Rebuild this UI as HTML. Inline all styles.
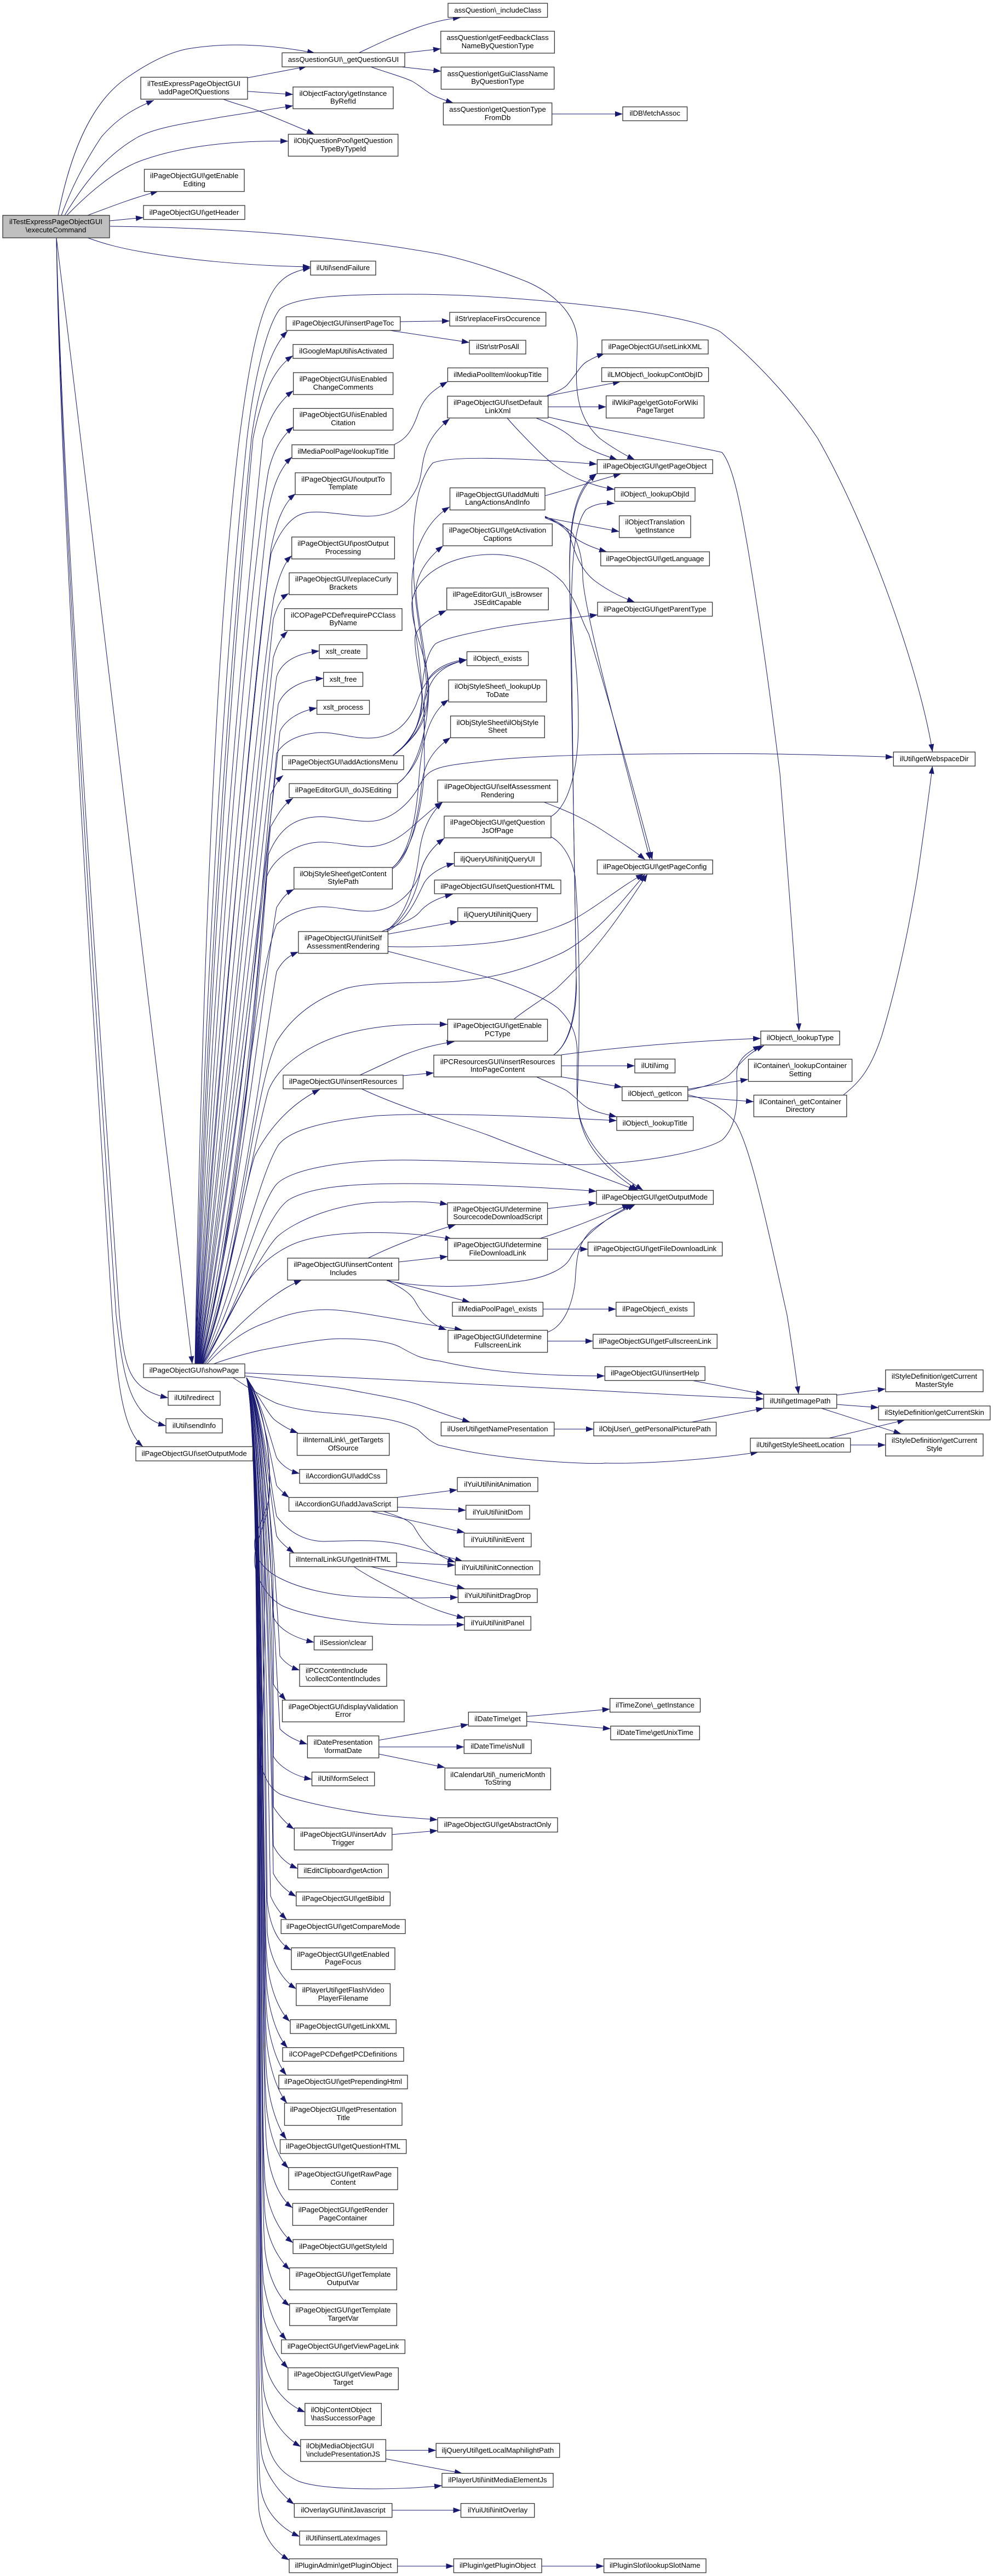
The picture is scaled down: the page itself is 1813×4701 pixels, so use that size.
<!DOCTYPE html>
<html><head><meta charset="utf-8"><title>Call graph</title>
<style>
html,body{margin:0;padding:0;background:#fff}
svg{display:block}
.e path{fill:none;stroke:#191970;stroke-width:1;marker-end:url(#a)}
.n rect{fill:#fff;stroke:#333;stroke-width:1.3}
.n text{font-family:"Liberation Sans",sans-serif;font-size:13.2px;fill:#000;text-anchor:middle}
.n text.l{text-anchor:start}
</style></head><body>
<svg xmlns="http://www.w3.org/2000/svg" width="1813" height="4701" viewBox="0 0 1813 4701">
<defs><marker id="a" markerUnits="userSpaceOnUse" markerWidth="15" markerHeight="10" refX="14" refY="5" orient="auto"><polygon points="0,0 14,5 0,10" fill="#191970"/></marker></defs>
<g class="e">
<path d="M106 393C130 270 170 185 230 143C280 108 320 92 350 88C420 77 500 82 575 97"/>
<path d="M112 393C135 330 165 280 185 250C215 215 245 198 281 183"/>
<path d="M118 393C150 340 190 285 252 250C290 230 360 222 402 214L535 193"/>
<path d="M122 393C150 365 205 310 264 291C330 268 420 256 526 257.6"/>
<path d="M160 393C195 380 240 362 289 349"/>
<path d="M200 403L262 397"/>
<path d="M201 413C400 415 620 430 804 464C860 476 920 497 964 515C1020 540 1054 580 1054 625C1054 680 1040 750 1095 800C1115 815 1140 830 1159 839"/>
<path d="M160 434C190 445 220 453 264 460.5C330 472 440 485 567 487"/>
<path d="M103 434L351 2489"/>
<path d="M103 434C110 900 160 1700 205 2400C215 2530 225 2610 261 2640"/>
<path d="M103 434C112 900 165 1700 212 2400C225 2510 235 2585 303 2602"/>
<path d="M103 434C114 900 170 1700 218 2400C228 2500 235 2535 307 2551"/>
<path d="M356 2489C370 1700 400 1100 437 800C455 660 475 550 511 515C525 500 545 493 567 489"/>
<path d="M356.5 2489C375 1700 420 1100 451 800C465 680 490 590 511 564C540 540 640 537 746 537C900 537 1060 555 1133 564C1200 572 1290 590 1316 606C1370 650 1440 720 1493 800C1590 970 1680 1230 1702.5 1372"/>
<path d="M357 2489C380 1700 430 1100 459 800C470 720 490 640 525 604"/>
<path d="M357.5 2489C385 1700 435 1100 462 800C475 735 495 675 535 649"/>
<path d="M358 2489C390 1700 450 1100 480 800C490 770 505 735 535.6 713"/>
<path d="M358.5 2489C395 1800 450 1100 490 860C497 830 510 800 535.6 779"/>
<path d="M359 2489C400 1800 465 1150 490 930C498 890 510 855 533 834"/>
<path d="M359.5 2489C400 1900 470 1200 495 1000C503 960 515 920 539.6 901"/>
<path d="M360 2489C405 1900 465 1200 495 1010C510 970 530 945 551 938C580 928 630 942 672 942C710 942 750 925 765 880C775 850 765 810 821 764"/>
<path d="M360.5 2489C410 1900 475 1250 500 1090C505 1070 515 1030 532.7 1014"/>
<path d="M361 2489C415 1950 480 1300 499 1130C505 1110 512 1092 527 1083"/>
<path d="M361.5 2489C420 1950 485 1350 499 1200C505 1180 512 1165 525 1152"/>
<path d="M362 2489C425 2000 485 1400 505 1235C515 1205 545 1192 583 1188"/>
<path d="M362.5 2489C430 2000 490 1450 508 1285C520 1255 555 1240 590.7 1238"/>
<path d="M363 2489C435 2000 495 1500 511 1335C520 1315 545 1298 578.6 1292"/>
<path d="M363.5 2489C440 2050 490 1550 505 1375C520 1350 550 1340 580 1337C610 1335 640 1347 672 1347C720 1347 745 1320 760 1285C775 1240 795 1215 852.5 1204"/>
<path d="M364 2489C445 2050 480 1600 494 1450C500 1440 505 1425 517 1415"/>
<path d="M364.5 2489C450 2100 480 1650 494 1509C505 1490 515 1470 535 1456.6"/>
<path d="M365 2489C450 2150 480 1700 490 1560C510 1510 540 1494 574 1491C605 1488 640 1499 672 1499C715 1499 750 1465 769 1428C785 1400 800 1398 900 1387C1000 1377 1150 1375 1366 1375.5C1450 1376 1550 1379 1631 1381.6"/>
<path d="M365.5 2489C445 2200 470 1750 487 1600C500 1565 540 1540 580 1537C610 1535 640 1545 672 1545C720 1545 750 1510 768 1495C780 1485 790 1475 808 1464"/>
<path d="M366 2489C440 2200 480 1800 505 1656C515 1640 522 1630 536.7 1623"/>
<path d="M366.5 2489C430 2250 460 1800 505 1687C525 1668 555 1657 580 1655C610 1653 640 1663 672 1663C720 1663 755 1630 768 1590C775 1565 790 1545 811 1530"/>
<path d="M367 2489C440 2250 475 1950 505 1773C515 1755 525 1745 544.8 1737"/>
<path d="M367.5 2489C440 2300 460 2000 505 1901C530 1860 570 1825 631 1804C680 1790 780 1795 832 1791C900 1785 960 1770 1028 1738C1090 1705 1140 1640 1178 1595"/>
<path d="M368 2489C430 2300 460 2100 490 1990C510 1940 570 1905 626 1888C690 1870 750 1868 817 1869.4"/>
<path d="M368.5 2489C420 2350 440 2190 465 2110C490 2060 530 2015 584 1988"/>
<path d="M369 2489C430 2350 470 2150 508 2090C530 2060 600 2045 689 2036C790 2030 950 2036 1126 2045"/>
<path d="M369.5 2489C430 2380 470 2200 505 2161C530 2135 620 2117 735 2117C850 2117 1000 2128 1075 2125C1180 2122 1290 2100 1319 2080C1350 2050 1346 2000 1345 1960C1345 1930 1370 1918 1389 1908"/>
<path d="M370 2489C440 2380 480 2220 528 2189C570 2165 650 2160 735 2160C850 2160 1000 2167 1089 2174"/>
<path d="M371 2489C420 2400 475 2290 505 2258C535 2230 620 2190 717.6 2194C755 2192 790 2193 817.4 2198"/>
<path d="M373 2489C405 2430 450 2340 459 2330C490 2290 530 2270 557 2263C620 2245 740 2245 826.6 2262"/>
<path d="M375 2489C410 2440 490 2360 551 2336"/>
<path d="M390 2489C420 2478 450 2470 476 2464C540 2452 590 2443 620 2443C670 2443 710 2448 730 2458C760 2475 770 2480 804 2484C850 2495 940 2511 1104 2511"/>
<path d="M378 2489C415 2450 450 2425 488 2413C530 2395 565 2390 597 2390C640 2390 730 2410 844 2427"/>
<path d="M706 2336C730 2348 750 2360 758 2375C775 2405 790 2418 815 2427"/>
<path d="M706 2336L858 2376.5"/>
<path d="M672 2296C720 2272 780 2250 832 2235"/>
<path d="M728 2303L817.4 2293"/>
<path d="M706 2337C770 2350 850 2352 958 2337C1000 2330 1030 2315 1040 2298C1060 2262 1100 2225 1155 2198"/>
<path d="M1000 2431C1030 2420 1045 2380 1050 2340C1053 2290 1055 2270 1080 2245C1100 2230 1130 2212 1160 2198"/>
<path d="M986 2260C1050 2240 1100 2218 1150 2198"/>
<path d="M999.6 2205.6L1089 2195"/>
<path d="M1000 2279.6L1073.5 2279.6"/>
<path d="M1000 2447.4L1082.8 2447.4"/>
<path d="M991.4 2389L1124.8 2389"/>
<path d="M447 2505.6C700 2515 1100 2540 1394.4 2553"/>
<path d="M447 2511C520 2520 600 2530 631 2535C680 2545 730 2552 763 2563C800 2577 830 2587 858 2595"/>
<path d="M425 2514C450 2530 480 2550 505 2561C545 2575 590 2578 631 2581C680 2585 730 2590 763 2609C780 2625 785 2630 800 2637C840 2647 870 2652 900 2656C1000 2670 1100 2672 1104 2670C1180 2672 1300 2663 1384.5 2650"/>
<path d="M450 2514C470 2545 490 2580 500 2590C515 2602 530 2610 544 2615"/>
<path d="M450 2514C475 2550 495 2630 505 2660C515 2675 530 2685 547 2689"/>
<path d="M450 2514C478 2555 498 2680 505 2711C512 2720 520 2727 528 2733"/>
<path d="M450 2514C478 2560 495 2720 505 2767C530 2800 560 2812 590 2813C640 2812 690 2808 740 2820C780 2830 810 2840 845 2849"/>
<path d="M450 2514C478 2560 497 2760 505 2803C512 2815 525 2825 537 2834"/>
<path d="M450 2514C480 2560 498 2660 490 2740C475 2790 462 2800 465 2825C468 2850 490 2870 511 2880C540 2895 600 2915 689 2915C740 2917 790 2916 836 2915"/>
<path d="M450 2514C482 2560 502 2680 488 2760C472 2810 462 2830 465 2855C470 2885 490 2918 516.6 2931C560 2950 660 2965 746 2965C785 2966 820 2965 848 2965"/>
<path d="M450 2514C482 2570 500 2800 499 2951C510 2975 540 2990 573.5 2997"/>
<path d="M450 2514C482 2570 502 2850 511 3022C520 3035 535 3044 547 3048"/>
<path d="M450 2514C482 2570 502 2900 499 3073C505 3085 515 3095 522 3103"/>
<path d="M450 2514C484 2570 502 3000 511 3155C525 3170 545 3178 561 3183"/>
<path d="M450 2514C484 2580 502 3050 499 3205C510 3225 540 3242 569.5 3247"/>
<path d="M450 2514C484 2580 490 2900 476 3220C485 3250 495 3265 511 3274C540 3285 600 3300 689 3312C725 3316 765 3318 799 3321"/>
<path d="M450 2514C484 2580 500 3100 499 3297C510 3315 525 3330 537 3338"/>
<path d="M450 2514C484 2590 498 3200 499 3368C510 3390 525 3402 543.6 3410"/>
<path d="M450 2514C484 2590 496 3250 499 3419C510 3440 525 3452 540.8 3461"/>
<path d="M450 2514C484 2600 490 3300 494 3460C500 3475 510 3490 523.5 3503"/>
<path d="M450 2514C484 2600 485 3300 488 3470C492 3510 505 3545 532 3559"/>
<path d="M450 2514C484 2610 482 3350 488 3526C492 3570 510 3610 540.8 3629.5"/>
<path d="M450 2514C484 2620 478 3510 488 3582C492 3620 505 3665 529 3689"/>
<path d="M450 2514C484 2620 478 3570 488 3633C492 3670 505 3715 525 3737"/>
<path d="M450 2514C484 2620 478 3620 488 3684C492 3720 505 3765 523 3787"/>
<path d="M450 2514C484 2620 476 3670 488 3735C492 3770 505 3815 524 3838"/>
<path d="M450 2514C484 2620 476 3730 488 3796C492 3835 505 3880 523 3904"/>
<path d="M450 2514C484 2630 474 3790 488 3857C492 3890 505 3935 527 3957"/>
<path d="M450 2514C484 2630 474 3860 488 3925C492 3965 508 4010 534 4029"/>
<path d="M450 2514C486 2640 472 3930 485 3990C490 4030 508 4072 535 4093"/>
<path d="M450 2514C486 2640 472 3990 485 4050C490 4090 508 4122 529 4142"/>
<path d="M450 2514C486 2650 470 4050 485 4115C490 4150 505 4190 529 4208"/>
<path d="M450 2514C486 2650 468 4110 482 4170C488 4205 500 4245 523 4270"/>
<path d="M450 2514C486 2650 468 4170 482 4230C488 4265 505 4300 526 4322"/>
<path d="M450 2514C488 2660 465 4240 482 4300C488 4345 515 4385 557 4402"/>
<path d="M450 2514C488 2660 465 4300 482 4365C488 4405 515 4445 549 4465"/>
<path d="M450 2514C488 2660 463 4330 482 4430C490 4480 505 4510 545 4528C590 4545 720 4545 807 4536"/>
<path d="M450 2514C488 2660 462 4400 478 4480C484 4515 510 4550 537 4570"/>
<path d="M450 2514C488 2660 460 4460 476 4540C482 4585 515 4615 547 4629"/>
<path d="M450 2514C488 2660 456 4520 474 4590C482 4630 500 4655 528 4672"/>
<path d="M656 96C690 80 710 70 735 61C765 48 800 36 841 32"/>
<path d="M739 96.4L805 89"/>
<path d="M735 122.4L805.4 130"/>
<path d="M677 122C705 132 735 140 752 148C770 158 780 170 800 178Q815 184 828 188"/>
<path d="M1007.7 208L1137 208"/>
<path d="M452 142L560 121.4"/>
<path d="M452 166.8L535 172.4"/>
<path d="M407.6 181C430 190 455 195 476.5 204C510 218 545 232 574 245"/>
<path d="M731 587L821 585.7"/>
<path d="M712 603L857 625"/>
<path d="M720 811C745 800 755 780 765 750C775 725 790 712 817.4 696.4"/>
<path d="M999 722C1015 715 1025 712 1035 703C1055 680 1060 665 1075 658C1085 652 1095 648 1104 645"/>
<path d="M1000.7 722.4L1133 696.4"/>
<path d="M1000.7 742.5L1106.7 742.5"/>
<path d="M926 763C945 785 965 805 985 825C1015 855 1045 870 1063 877C1085 885 1100 890 1122 893"/>
<path d="M979 763C1005 773 1030 785 1046 800C1065 818 1100 830 1127 839"/>
<path d="M1001 761C1100 785 1250 810 1318 825.5C1340 850 1355 940 1366 1004C1395 1180 1410 1300 1424 1412C1435 1550 1450 1740 1459 1881.6"/>
<path d="M717 1379C750 1355 770 1330 780 1280C780 1200 755 1120 755 1030C752 950 760 880 790 845C830 828 1000 840 1090 847"/>
<path d="M717 1379C745 1360 765 1335 770 1280C770 1230 780 1190 795 1175C810 1165 860 1155 900 1147C960 1136 1030 1130 1091 1122"/>
<path d="M717 1379C745 1358 765 1330 775 1280C785 1240 800 1215 852.5 1204"/>
<path d="M1006 1490C1040 1470 1056 1400 1056 1320C1056 1200 1040 1150 1040 1055C1038 950 1050 890 1090 864"/>
<path d="M1006 1527C1030 1540 1045 1570 1050 1600C1058 1700 1060 1850 1054 2008C1056 2070 1100 2125 1174 2172"/>
<path d="M726 1430C755 1410 780 1350 783 1260C783 1200 750 1150 752 1100C758 1050 820 1012 900 1011.7C960 1012 1005 1040 1028 1063C1055 1100 1060 1130 1075 1157C1115 1290 1160 1450 1191 1569"/>
<path d="M995 904.8L1134 864.5"/>
<path d="M995 944.4L1130.6 970"/>
<path d="M995 942C1010 950 1025 958 1034 968C1045 980 1065 995 1108 1007"/>
<path d="M995 943C1015 950 1030 958 1037 968C1050 1010 1060 1040 1086 1060C1110 1078 1135 1090 1159 1099"/>
<path d="M995 945C1020 955 1040 965 1045.6 973.5C1060 1000 1064 1030 1064 1055C1068 1120 1130 1350 1187 1569"/>
<path d="M717 1379C745 1355 780 1330 782 1270C782 1200 757 1110 760 1070C765 1040 785 1015 809 996"/>
<path d="M717 1379C750 1355 773 1320 770 1270C770 1200 750 1130 752 1060C755 1000 780 950 821 925"/>
<path d="M726 1430C750 1410 772 1380 775 1330C775 1250 755 1200 758 1160C765 1140 790 1125 815 1114"/>
<path d="M717 1583C745 1560 760 1500 765 1420C770 1350 785 1300 819 1277"/>
<path d="M717 1585C750 1565 765 1480 770 1430C775 1390 795 1365 822.6 1346"/>
<path d="M717 1583C745 1560 770 1500 775 1400C775 1320 770 1260 785 1235C800 1215 830 1205 852 1204"/>
<path d="M993 1463.8C1030 1478 1060 1490 1098 1514C1130 1535 1155 1550 1178 1569"/>
<path d="M697 1700C730 1685 755 1680 770 1660C785 1645 805 1637 826.6 1632"/>
<path d="M708.4 1704.6L835.8 1681.6"/>
<path d="M706 1700C745 1680 760 1640 775 1610C785 1595 805 1582 829.5 1575.5"/>
<path d="M706 1698C745 1675 762 1620 768 1590C775 1565 790 1545 811 1530"/>
<path d="M706 1698C745 1670 760 1600 765 1560C770 1515 785 1485 808 1464"/>
<path d="M708 1727.5C760 1729 840 1727 900 1720C950 1714 1000 1700 1040 1682C1090 1655 1130 1620 1175 1595"/>
<path d="M708 1736C760 1749 840 1770 900 1786C960 1805 1000 1825 1019 1840C1045 1865 1055 1890 1054 1930C1053 2000 1050 2040 1075 2085C1095 2120 1130 2150 1165 2172"/>
<path d="M938 1860C970 1835 990 1825 1016 1804C1090 1735 1140 1660 1182 1595"/>
<path d="M657 1962C690 1947 715 1935 735 1926C770 1912 800 1905 829.5 1901"/>
<path d="M736 1963L792 1958"/>
<path d="M660 1987C740 2025 850 2055 900 2075C980 2107 1080 2140 1162 2172"/>
<path d="M1025 1925C1150 1908 1300 1898 1389 1895"/>
<path d="M1025 1945L1159 1945"/>
<path d="M1025 1965.3L1135.8 1984"/>
<path d="M979 1965C1000 1975 1020 1982 1034 1990C1055 2005 1060 2015 1075 2023C1090 2030 1108 2034 1126 2038"/>
<path d="M1011 1925C1040 1905 1052 1850 1052 1780C1052 1650 1043 1300 1040 1050C1040 950 1050 900 1089 865"/>
<path d="M1011 1925C1040 1905 1055 1850 1052 1780C1048 1600 1045 1300 1043 1150C1043 1050 1045 960 1070 930C1085 920 1100 917 1122 919"/>
<path d="M1256 1990C1290 1982 1315 1975 1331 1962C1350 1945 1360 1925 1395 1908"/>
<path d="M1255.8 1987.6L1366 1969.7"/>
<path d="M1255.8 2001L1376 2010.5"/>
<path d="M1256 1998C1290 2005 1320 2020 1343 2049C1370 2095 1395 2210 1437 2400C1445 2450 1452 2500 1458 2544"/>
<path d="M1540 1998C1570 1975 1590 1950 1610 1890C1640 1790 1660 1690 1675 1600C1685 1530 1695 1460 1702.4 1398"/>
<path d="M1264 2519.3L1394.4 2544.4"/>
<path d="M1264 2595L1394.4 2570"/>
<path d="M1011.8 2608L1084 2608"/>
<path d="M1527.7 2546L1616.8 2534.6"/>
<path d="M1527.7 2563L1604 2568.8"/>
<path d="M1499.8 2570L1645.4 2616.8"/>
<path d="M1514 2624.4L1652.4 2591.3"/>
<path d="M1552.7 2637L1616.8 2637"/>
<path d="M725.6 2732.5L835 2718.8"/>
<path d="M725.6 2750.4L850.7 2756"/>
<path d="M677 2758L848.4 2796.8"/>
<path d="M700 2758C725 2767 745 2772 755 2785C770 2810 785 2835 831 2851"/>
<path d="M724 2851L831 2856.4"/>
<path d="M677 2859L848.4 2899"/>
<path d="M646 2859C680 2882 720 2900 746 2915C785 2935 815 2945 848 2953"/>
<path d="M691.7 3175.7L855.3 3147"/>
<path d="M691.7 3188L847.3 3188"/>
<path d="M691.7 3201L812.3 3225.5"/>
<path d="M961.7 3132.4L1113.7 3119"/>
<path d="M961.7 3141.5L1114.9 3154.8"/>
<path d="M715.8 3347.9L799 3340.8"/>
<path d="M704.4 4471.6L796.2 4471.6"/>
<path d="M704.4 4487.2L843.9 4513.6"/>
<path d="M715.8 4581L841.5 4581"/>
<path d="M725.6 4683L828.4 4683"/>
<path d="M989 4683L1102.6 4683"/>
</g>
<g class="n">
<rect x="5" y="393" width="195" height="41" style="fill:#bfbfbf"/><text x="102" y="409">ilTestExpressPageObjectGUI</text><text x="102" y="424">\executeCommand</text>
<rect x="257" y="141" width="195" height="40"/><text x="354" y="157">ilTestExpressPageObjectGUI</text><text x="354" y="172">\addPageOfQuestions</text>
<rect x="263.5" y="309" width="182.5" height="40.5"/><text x="354.7" y="325">ilPageObjectGUI\getEnable</text><text x="354.7" y="340">Editing</text>
<rect x="262" y="375" width="185" height="25.5"/><text x="354.5" y="392">ilPageObjectGUI\getHeader</text>
<rect x="262" y="2489" width="185" height="25"/><text x="354.5" y="2505">ilPageObjectGUI\showPage</text>
<rect x="307" y="2539" width="95" height="25.5"/><text x="354.5" y="2555">ilUtil\redirect</text>
<rect x="303" y="2589" width="103" height="26"/><text x="354.5" y="2606">ilUtil\sendInfo</text>
<rect x="248" y="2640" width="213.5" height="26"/><text x="354.7" y="2657">ilPageObjectGUI\setOutputMode</text>
<rect x="515" y="96.4" width="224" height="25.6"/><text x="627" y="113">assQuestionGUI\_getQuestionGUI</text>
<rect x="535" y="158.7" width="183" height="39.8"/><text x="626.5" y="175">ilObjectFactory\getInstance</text><text x="626.5" y="189">ByRefId</text>
<rect x="526.4" y="245" width="200.3" height="40"/><text x="626.5" y="261">ilObjQuestionPool\getQuestion</text><text x="626.5" y="276">TypeByTypeId</text>
<rect x="567" y="476.5" width="119" height="25.5"/><text x="626.5" y="493">ilUtil\sendFailure</text>
<rect x="522.4" y="578" width="208.4" height="25"/><text x="626.6" y="594">ilPageObjectGUI\insertPageToc</text>
<rect x="535" y="628.6" width="183" height="25.4"/><text x="626.5" y="645">ilGoogleMapUtil\isActivated</text>
<rect x="535.6" y="680" width="182" height="40"/><text x="626.6" y="696">ilPageObjectGUI\isEnabled</text><text x="626.6" y="711">ChangeComments</text>
<rect x="535.6" y="745.4" width="182" height="39.6"/><text x="626.6" y="761">ilPageObjectGUI\isEnabled</text><text x="626.6" y="776">Citation</text>
<rect x="533" y="811.7" width="187" height="25"/><text x="626.5" y="828">ilMediaPoolPage\lookupTitle</text>
<rect x="539" y="862.8" width="175" height="39.8"/><text x="626.5" y="879">ilPageObjectGUI\outputTo</text><text x="626.5" y="893">Template</text>
<rect x="532.7" y="980" width="187.7" height="40"/><text x="626.5" y="996">ilPageObjectGUI\postOutput</text><text x="626.5" y="1011">Processing</text>
<rect x="528" y="1045.4" width="197.6" height="39.8"/><text x="626.8" y="1061">ilPageObjectGUI\replaceCurly</text><text x="626.8" y="1076">Brackets</text>
<rect x="519.5" y="1110.7" width="214.5" height="39.8"/><text x="626.7" y="1127">ilCOPagePCDef\requirePCClass</text><text x="626.7" y="1141">ByName</text>
<rect x="583" y="1176.5" width="87" height="25.5"/><text x="626.5" y="1193">xslt_create</text>
<rect x="590.7" y="1227" width="71.8" height="25.6"/><text x="626.6" y="1244">xslt_free</text>
<rect x="578.6" y="1278" width="95.9" height="25.6"/><text x="626.5" y="1295">xslt_process</text>
<rect x="515.5" y="1379" width="221.5" height="25.6"/><text x="626.2" y="1395">ilPageObjectGUI\addActionsMenu</text>
<rect x="528" y="1430" width="197.6" height="25.6"/><text x="626.8" y="1446">ilPageEditorGUI\_doJSEditing</text>
<rect x="536.7" y="1583" width="179.7" height="39.4"/><text x="626.5" y="1599">ilObjStyleSheet\getContent</text><text x="626.5" y="1613">StylePath</text>
<rect x="544.8" y="1700" width="163.6" height="39.8"/><text x="626.6" y="1716">ilPageObjectGUI\initSelf</text><text x="626.6" y="1731">AssessmentRendering</text>
<rect x="517" y="1962" width="219" height="25"/><text x="626.5" y="1978">ilPageObjectGUI\insertResources</text>
<rect x="525" y="2296" width="203" height="40"/><text x="626.5" y="2312">ilPageObjectGUI\insertContent</text><text x="626.5" y="2327">Includes</text>
<rect x="542.5" y="2615.8" width="168.2" height="40.2"/><text x="626.6" y="2632">ilInternalLink\_getTargets</text><text x="626.6" y="2647">OfSource</text>
<rect x="547" y="2681.6" width="159" height="25.4"/><text x="626.5" y="2698">ilAccordionGUI\addCss</text>
<rect x="527.5" y="2732.7" width="198.1" height="25.3"/><text x="626.5" y="2749">ilAccordionGUI\addJavaScript</text>
<rect x="529" y="2834" width="195" height="25"/><text x="626.5" y="2850">ilInternalLinkGUI\getInitHTML</text>
<rect x="573.5" y="2986" width="106.5" height="25"/><text x="626.7" y="3002">ilSession\clear</text>
<rect x="547" y="3037" width="159" height="40.5"/><text class="l" x="558" y="3053">ilPCContentInclude</text><text class="l" x="558" y="3068">\collectContentIncludes</text>
<rect x="515.5" y="3102.6" width="222.5" height="39.7"/><text x="626.7" y="3119">ilPageObjectGUI\displayValidation</text><text x="626.7" y="3133">Error</text>
<rect x="561.4" y="3167.9" width="130.3" height="40.1"/><text x="626.5" y="3184">ilDatePresentation</text><text x="626.5" y="3199">\formatDate</text>
<rect x="569.5" y="3234" width="114.2" height="25"/><text x="626.6" y="3250">ilUtil\formSelect</text>
<rect x="537.3" y="3336" width="178.5" height="40"/><text x="626.5" y="3352">ilPageObjectGUI\insertAdv</text><text x="626.5" y="3367">Trigger</text>
<rect x="543.6" y="3402" width="165.4" height="25"/><text x="626.3" y="3418">ilEditClipboard\getAction</text>
<rect x="540.8" y="3452.6" width="171.6" height="25.4"/><text x="626.6" y="3469">ilPageObjectGUI\getBibId</text>
<rect x="513.2" y="3503" width="226.8" height="25.6"/><text x="626.6" y="3520">ilPageObjectGUI\getCompareMode</text>
<rect x="532" y="3554.6" width="189" height="39.8"/><text x="626.5" y="3571">ilPageObjectGUI\getEnabled</text><text x="626.5" y="3585">PageFocus</text>
<rect x="540.8" y="3620" width="171.6" height="40"/><text x="626.6" y="3636">ilPlayerUtil\getFlashVideo</text><text x="626.6" y="3651">PlayerFilename</text>
<rect x="530" y="3685.7" width="193.3" height="25.3"/><text x="626.6" y="3702">ilPageObjectGUI\getLinkXML</text>
<rect x="516" y="3736.7" width="221" height="25"/><text x="626.5" y="3753">ilCOPagePCDef\getPCDefinitions</text>
<rect x="509" y="3787" width="235" height="25"/><text x="626.5" y="3803">ilPageObjectGUI\getPrependingHtml</text>
<rect x="519.5" y="3838" width="214.5" height="40.6"/><text x="626.7" y="3854">ilPageObjectGUI\getPresentation</text><text x="626.7" y="3869">Title</text>
<rect x="511.5" y="3904.6" width="230.2" height="25.4"/><text x="626.6" y="3921">ilPageObjectGUI\getQuestionHTML</text>
<rect x="527" y="3955.6" width="199" height="40.4"/><text x="626.5" y="3972">ilPageObjectGUI\getRawPage</text><text x="626.5" y="3987">Content</text>
<rect x="534.4" y="4021" width="184.3" height="40.2"/><text x="626.5" y="4037">ilPageObjectGUI\getRender</text><text x="626.5" y="4052">PageContainer</text>
<rect x="535" y="4087" width="183" height="25.6"/><text x="626.5" y="4104">ilPageObjectGUI\getStyleId</text>
<rect x="528.7" y="4138.6" width="195.7" height="40.2"/><text x="626.5" y="4155">ilPageObjectGUI\getTemplate</text><text x="626.5" y="4170">OutputVar</text>
<rect x="528.7" y="4203.8" width="195.7" height="40.2"/><text x="626.5" y="4220">ilPageObjectGUI\getTemplate</text><text x="626.5" y="4235">TargetVar</text>
<rect x="513.8" y="4270" width="225.6" height="25"/><text x="626.6" y="4286">ilPageObjectGUI\getViewPageLink</text>
<rect x="525.8" y="4321" width="201.5" height="40"/><text x="626.5" y="4337">ilPageObjectGUI\getViewPage</text><text x="626.5" y="4352">Target</text>
<rect x="556.8" y="4386" width="139.5" height="40.5"/><text class="l" x="567.5" y="4402">ilObjContentObject</text><text class="l" x="567.5" y="4417">\hasSuccessorPage</text>
<rect x="548.8" y="4452" width="155.6" height="40"/><text class="l" x="559" y="4468">ilObjMediaObjectGUI</text><text class="l" x="559" y="4483">\includePresentationJS</text>
<rect x="537.3" y="4568.6" width="178.5" height="25.4"/><text x="626.5" y="4585">ilOverlayGUI\initJavascript</text>
<rect x="547" y="4619" width="159" height="25.6"/><text x="626.5" y="4636">ilUtil\insertLatexImages</text>
<rect x="528" y="4669.6" width="197.6" height="25.4"/><text x="626.8" y="4686">ilPluginAdmin\getPluginObject</text>
<rect x="818" y="6" width="181.6" height="25.6"/><text x="908.8" y="23">assQuestion\_includeClass</text>
<rect x="804.8" y="57" width="207.6" height="40"/><text x="908.6" y="73">assQuestion\getFeedbackClass</text><text x="908.6" y="88">NameByQuestionType</text>
<rect x="805.4" y="122.4" width="206.4" height="40.4"/><text x="908.6" y="139">assQuestion\getGuiClassName</text><text x="908.6" y="153">ByQuestionType</text>
<rect x="809.4" y="187.8" width="198.3" height="40.2"/><text x="908.5" y="204">assQuestion\getQuestionType</text><text x="908.5" y="219">FromDb</text>
<rect x="821" y="570" width="175.7" height="25"/><text x="908.8" y="586">ilStr\replaceFirsOccurence</text>
<rect x="857" y="621" width="103" height="25"/><text x="908.5" y="637">ilStr\strPosAll</text>
<rect x="817.4" y="671.4" width="182.6" height="25"/><text x="908.7" y="688">ilMediaPoolItem\lookupTitle</text>
<rect x="817" y="723" width="183.7" height="39.8"/><text x="908.8" y="739">ilPageObjectGUI\setDefault</text><text x="908.8" y="754">LinkXml</text>
<rect x="821.5" y="890.3" width="173.5" height="40.3"/><text x="908.2" y="907">ilPageObjectGUI\addMulti</text><text x="908.2" y="921">LangActionsAndInfo</text>
<rect x="808.8" y="956" width="199.5" height="40"/><text x="908.5" y="972">ilPageObjectGUI\getActivation</text><text x="908.5" y="987">Captions</text>
<rect x="815.7" y="1073" width="185.6" height="40"/><text x="908.5" y="1089">ilPageEditorGUI\_isBrowser</text><text x="908.5" y="1104">JSEditCapable</text>
<rect x="852.5" y="1189.3" width="112.1" height="25.5"/><text x="908.5" y="1206">ilObject\_exists</text>
<rect x="819" y="1240.8" width="178.8" height="40.2"/><text x="908.4" y="1257">ilObjStyleSheet\_lookupUp</text><text x="908.4" y="1272">ToDate</text>
<rect x="822.6" y="1306.6" width="171.7" height="39.8"/><text x="908.4" y="1323">ilObjStyleSheet\ilObjStyle</text><text x="908.4" y="1337">Sheet</text>
<rect x="799" y="1423.5" width="219" height="40.3"/><text x="908.5" y="1440">ilPageObjectGUI\selfAssessment</text><text x="908.5" y="1455">Rendering</text>
<rect x="811" y="1489.3" width="195" height="39.7"/><text x="908.5" y="1505">ilPageObjectGUI\getQuestion</text><text x="908.5" y="1520">JsOfPage</text>
<rect x="829.5" y="1555.6" width="158.5" height="25"/><text x="908.7" y="1572">iljQueryUtil\initjQueryUI</text>
<rect x="793.3" y="1606" width="230.7" height="25"/><text x="908.6" y="1622">ilPageObjectGUI\setQuestionHTML</text>
<rect x="835.8" y="1656.6" width="145.2" height="25"/><text x="908.4" y="1673">iljQueryUtil\initjQuery</text>
<rect x="817.4" y="1860" width="182.2" height="40"/><text x="908.5" y="1876">ilPageObjectGUI\getEnable</text><text x="908.5" y="1891">PCType</text>
<rect x="792" y="1925.5" width="233" height="39.8"/><text x="908.5" y="1942">ilPCResourcesGUI\insertResources</text><text x="908.5" y="1956">IntoPageContent</text>
<rect x="817" y="2195" width="182.6" height="39.7"/><text class="l" x="827.5" y="2211">ilPageObjectGUI\determine</text><text class="l" x="827.5" y="2225">SourcecodeDownloadScript</text>
<rect x="817.4" y="2260" width="182.2" height="40"/><text x="908.5" y="2276">ilPageObjectGUI\determine</text><text x="908.5" y="2291">FileDownloadLink</text>
<rect x="826" y="2376.5" width="165.4" height="25.5"/><text x="908.7" y="2393">ilMediaPoolPage\_exists</text>
<rect x="818" y="2427.6" width="181.6" height="40.3"/><text x="908.8" y="2444">ilPageObjectGUI\determine</text><text x="908.8" y="2459">FullscreenLink</text>
<rect x="805.4" y="2595.4" width="206.4" height="25"/><text x="908.6" y="2612">ilUserUtil\getNamePresentation</text>
<rect x="835" y="2696.4" width="147" height="25.6"/><text x="908.5" y="2713">ilYuiUtil\initAnimation</text>
<rect x="850.7" y="2747" width="116.3" height="25.4"/><text x="908.8" y="2764">ilYuiUtil\initDom</text>
<rect x="847.3" y="2798" width="122.6" height="25"/><text x="908.6" y="2814">ilYuiUtil\initEvent</text>
<rect x="831.2" y="2848.5" width="154.4" height="25.5"/><text x="908.4" y="2865">ilYuiUtil\initConnection</text>
<rect x="836.4" y="2899.5" width="144.6" height="25"/><text x="908.7" y="2916">ilYuiUtil\initDragDrop</text>
<rect x="848" y="2950" width="121.3" height="25"/><text x="908.6" y="2966">ilYuiUtil\initPanel</text>
<rect x="855.3" y="3124.5" width="106.4" height="25.5"/><text x="908.5" y="3141">ilDateTime\get</text>
<rect x="847.3" y="3175" width="122.7" height="25"/><text x="908.6" y="3191">ilDateTime\isNull</text>
<rect x="812.3" y="3226.5" width="193.1" height="39.8"/><text x="908.8" y="3243">ilCalendarUtil\_numericMonth</text><text x="908.8" y="3257">ToString</text>
<rect x="799" y="3317.3" width="219" height="26.1"/><text x="908.5" y="3334">ilPageObjectGUI\getAbstractOnly</text>
<rect x="796.2" y="4459" width="225.5" height="25.6"/><text x="908.9" y="4476">iljQueryUtil\getLocalMaphilightPath</text>
<rect x="807" y="4513.6" width="203" height="25.4"/><text x="908.5" y="4530">ilPlayerUtil\initMediaElementJs</text>
<rect x="841.5" y="4568.6" width="134.2" height="25.4"/><text x="908.6" y="4585">ilYuiUtil\initOverlay</text>
<rect x="828.4" y="4669.6" width="160.6" height="25.4"/><text x="908.7" y="4686">ilPlugin\getPluginObject</text>
<rect x="1137" y="195" width="117.6" height="25.4"/><text x="1195.8" y="211">ilDB\fetchAssoc</text>
<rect x="1099" y="620.4" width="194" height="25.6"/><text x="1196" y="637">ilPageObjectGUI\setLinkXML</text>
<rect x="1098.6" y="671" width="195" height="25.4"/><text x="1196" y="688">ilLMObject\_lookupContObjID</text>
<rect x="1106.7" y="722.4" width="178.8" height="40.4"/><text x="1196" y="739">ilWikiPage\getGotoForWiki</text><text x="1196" y="753">PageTarget</text>
<rect x="1090.4" y="838.8" width="210.8" height="25.5"/><text x="1195.8" y="855">ilPageObjectGUI\getPageObject</text>
<rect x="1122.4" y="889.8" width="146.6" height="25"/><text x="1195.7" y="906">ilObject\_lookupObjId</text>
<rect x="1130.6" y="941.3" width="130.4" height="39.7"/><text x="1195.8" y="957">ilObjectTranslation</text><text x="1195.8" y="972">\getInstance</text>
<rect x="1096.8" y="1007" width="198.6" height="25.7"/><text x="1196" y="1024">ilPageObjectGUI\getLanguage</text>
<rect x="1091" y="1099" width="209.6" height="25.5"/><text x="1195.8" y="1116">ilPageObjectGUI\getParentType</text>
<rect x="1090.4" y="1569.4" width="210.8" height="25.6"/><text x="1195.8" y="1586">ilPageObjectGUI\getPageConfig</text>
<rect x="1135.8" y="1983" width="120" height="25.7"/><text x="1195.8" y="2000">ilObject\_getIcon</text>
<rect x="1159" y="1932.7" width="73.5" height="25.3"/><text x="1195.7" y="1949">ilUtil\img</text>
<rect x="1126" y="2037.8" width="139.7" height="25.2"/><text x="1195.8" y="2054">ilObject\_lookupTitle</text>
<rect x="1089" y="2172.4" width="213.4" height="25.6"/><text x="1195.7" y="2189">ilPageObjectGUI\getOutputMode</text>
<rect x="1073.5" y="2266.8" width="245.2" height="25.2"/><text x="1196" y="2283">ilPageObjectGUI\getFileDownloadLink</text>
<rect x="1124.8" y="2376.5" width="142.6" height="25.5"/><text x="1196" y="2393">ilPageObject\_exists</text>
<rect x="1082.8" y="2435" width="226.5" height="25.7"/><text x="1196" y="2452">ilPageObjectGUI\getFullscreenLink</text>
<rect x="1104.4" y="2494" width="182.8" height="25.4"/><text x="1195.8" y="2510">ilPageObjectGUI\insertHelp</text>
<rect x="1084" y="2595.4" width="223.6" height="25"/><text x="1195.8" y="2612">ilObjUser\_getPersonalPicturePath</text>
<rect x="1113.7" y="3099.5" width="164.8" height="25"/><text x="1196" y="3116">ilTimeZone\_getInstance</text>
<rect x="1114.9" y="3150" width="162.4" height="25"/><text x="1196" y="3166">ilDateTime\getUnixTime</text>
<rect x="1102.6" y="4669.6" width="186.4" height="25.4"/><text x="1195.8" y="4686">ilPluginSlot\lookupSlotName</text>
<rect x="1631.3" y="1372.4" width="149.1" height="25.6"/><text x="1705.8" y="1389">ilUtil\getWebspaceDir</text>
<rect x="1389" y="1881.6" width="144" height="25.4"/><text x="1461" y="1898">ilObject\_lookupType</text>
<rect x="1366.4" y="1933" width="189.2" height="40.5"/><text x="1461" y="1949">ilContainer\_lookupContainer</text><text x="1461" y="1964">Setting</text>
<rect x="1376.3" y="1998.5" width="169.5" height="39.5"/><text x="1461" y="2015">ilContainer\_getContainer</text><text x="1461" y="2029">Directory</text>
<rect x="1394.4" y="2544.4" width="133.3" height="25.6"/><text x="1461" y="2561">ilUtil\getImagePath</text>
<rect x="1370" y="2624.5" width="182.7" height="25.5"/><text x="1461.3" y="2641">ilUtil\getStyleSheetLocation</text>
<rect x="1616.8" y="2500" width="178.2" height="39.8"/><text x="1706" y="2516">ilStyleDefinition\getCurrent</text><text x="1706" y="2531">MasterStyle</text>
<rect x="1604" y="2565.8" width="203.8" height="25.5"/><text x="1706" y="2582">ilStyleDefinition\getCurrentSkin</text>
<rect x="1616.8" y="2616.8" width="178.2" height="40.2"/><text x="1706" y="2633">ilStyleDefinition\getCurrent</text><text x="1706" y="2648">Style</text>
</g>
</svg>
</body></html>
